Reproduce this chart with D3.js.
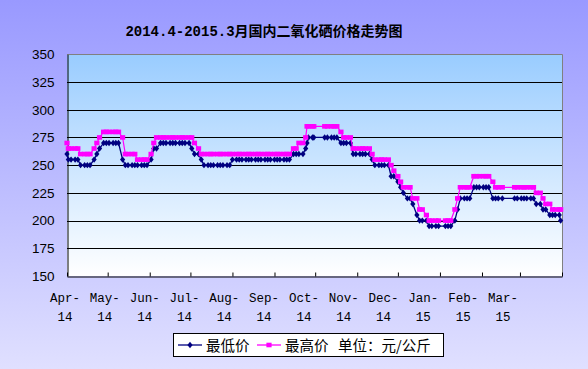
<!DOCTYPE html>
<html>
<head>
<meta charset="utf-8">
<script src="https://cdn.jsdelivr.net/npm/d3@7"></script>
<style>
  html, body { margin: 0; padding: 0; }
  svg { display: block; }
</style>
</head>
<body>
<div id="chart"></div>
<script>
const title = '2014.4-2015.3月国内二氧化硒价格走势图';

// price quote dates (Mon/Wed/Fri style, holidays skipped)
const dates = [
  '2014-04-01','2014-04-02','2014-04-04','2014-04-07','2014-04-09','2014-04-11','2014-04-14','2014-04-16','2014-04-18','2014-04-21','2014-04-23','2014-04-25','2014-04-28','2014-04-30',
  '2014-05-02','2014-05-05','2014-05-07','2014-05-09','2014-05-12','2014-05-14','2014-05-16','2014-05-19','2014-05-21','2014-05-23','2014-05-26','2014-05-28','2014-05-30',
  '2014-06-02','2014-06-04','2014-06-06','2014-06-09','2014-06-11','2014-06-13','2014-06-16','2014-06-18','2014-06-20','2014-06-23','2014-06-25','2014-06-27','2014-06-30',
  '2014-07-02','2014-07-04','2014-07-07','2014-07-09','2014-07-11','2014-07-14','2014-07-16','2014-07-18','2014-07-21','2014-07-23','2014-07-25','2014-07-28','2014-07-30',
  '2014-08-01','2014-08-04','2014-08-06','2014-08-08','2014-08-11','2014-08-13','2014-08-15','2014-08-18','2014-08-20','2014-08-22','2014-08-25','2014-08-27','2014-08-29',
  '2014-09-01','2014-09-03','2014-09-05','2014-09-08','2014-09-10','2014-09-12','2014-09-15','2014-09-17','2014-09-19','2014-09-22','2014-09-24','2014-09-25','2014-09-26','2014-09-29','2014-09-30',
  '2014-10-08','2014-10-10','2014-10-13','2014-10-15','2014-10-17','2014-10-20','2014-10-22','2014-10-24','2014-10-27','2014-10-29','2014-10-31',
  '2014-11-03','2014-11-05','2014-11-07','2014-11-10','2014-11-12','2014-11-14','2014-11-17','2014-11-19','2014-11-21','2014-11-24','2014-11-26','2014-11-28',
  '2014-12-01','2014-12-03','2014-12-05','2014-12-08','2014-12-10','2014-12-12','2014-12-15','2014-12-17','2014-12-19','2014-12-22','2014-12-24','2014-12-26','2014-12-29','2014-12-31',
  '2015-01-05','2015-01-07','2015-01-09','2015-01-12','2015-01-14','2015-01-16','2015-01-19','2015-01-21','2015-01-23','2015-01-26','2015-01-28','2015-01-30',
  '2015-02-02','2015-02-04','2015-02-06','2015-02-09','2015-02-11','2015-02-13','2015-02-16','2015-02-25','2015-02-27',
  '2015-03-02','2015-03-04','2015-03-06','2015-03-09','2015-03-11','2015-03-13','2015-03-16','2015-03-18','2015-03-20','2015-03-23','2015-03-25','2015-03-27','2015-03-30','2015-03-31'
];

const lowPrices = [
  260,255,255,255,255,250,250,250,250,255,260,265,270,270,
  270,270,270,270,255,250,250,250,250,250,250,250,250,
  255,265,265,270,270,270,270,270,270,270,270,270,270,
  265,260,260,255,250,250,250,250,250,250,250,250,250,
  255,255,255,255,255,255,255,255,255,255,255,255,255,
  255,255,255,255,255,255,260,260,260,260,265,270,275,275,275,
  275,275,275,275,275,270,270,270,270,260,260,
  260,260,260,260,255,250,250,250,250,250,240,240,
  235,230,225,220,220,215,205,200,200,200,195,195,195,195,
  195,195,195,200,210,220,220,220,220,230,230,230,
  230,230,230,220,220,220,220,220,220,
  220,220,220,220,220,215,215,210,210,205,205,205,205,200
];

const highPrices = [
  270,265,265,265,265,260,260,260,260,265,270,275,280,280,
  280,280,280,280,275,260,260,260,260,255,255,255,255,
  260,270,275,275,275,275,275,275,275,275,275,275,275,
  275,270,265,260,260,260,260,260,260,260,260,260,260,
  260,260,260,260,260,260,260,260,260,260,260,260,260,
  260,260,260,260,260,260,265,265,270,270,275,285,285,285,285,
  285,285,285,285,285,280,275,275,275,265,265,
  265,265,265,265,260,255,255,255,255,255,250,245,
  240,235,230,230,230,220,220,210,210,205,200,200,200,200,
  200,200,200,210,220,230,230,230,230,240,240,240,
  240,240,240,235,230,230,230,230,230,
  230,230,230,230,230,225,225,220,215,215,210,210,210,210
];

const yTicks = [150, 175, 200, 225, 250, 275, 300, 325, 350];
const monthLabels = [
  ['Apr-', '14'], ['May-', '14'], ['Jun-', '14'], ['Jul-', '14'], ['Aug-', '14'], ['Sep-', '14'],
  ['Oct-', '14'], ['Nov-', '14'], ['Dec-', '14'], ['Jan-', '15'], ['Feb-', '15'], ['Mar-', '15']
];
const seriesNames = ['最低价', '最高价'];
const unitLabel = '单位：元/公斤';

const W = 588, H = 369;
const plot = { left: 67, right: 562, top: 54.3, bottom: 276 };
const lowColor = '#000080';
const highColor = '#ff00ff';

const parse = d3.timeParse('%Y-%m-%d');
const points = dates.map((d, i) => ({ date: parse(d), low: lowPrices[i], high: highPrices[i] }));

const svg = d3.select('#chart').append('svg').attr('width', W).attr('height', H);
const defs = svg.append('defs');

const bgGrad = defs.append('linearGradient').attr('id', 'bg').attr('x1', 0).attr('y1', 0).attr('x2', 0).attr('y2', 1);
bgGrad.append('stop').attr('offset', '0%').attr('stop-color', '#9999ff');
bgGrad.append('stop').attr('offset', '100%').attr('stop-color', '#e0e0ff');

const plotGrad = defs.append('linearGradient').attr('id', 'plotbg').attr('x1', 0).attr('y1', 0).attr('x2', 0).attr('y2', 1);
plotGrad.append('stop').attr('offset', '0%').attr('stop-color', '#99ccff');
plotGrad.append('stop').attr('offset', '100%').attr('stop-color', '#ffffff');

svg.append('rect').attr('width', W).attr('height', H).attr('fill', 'url(#bg)');

const x = d3.scaleTime()
  .domain([parse('2014-04-01'), parse('2015-04-01')])
  .range([plot.left, plot.right]);
const y = d3.scaleLinear().domain([150, 350]).range([plot.bottom, plot.top]);
// month labels sit on their own evenly spaced slots, like the original
const xLabel = d3.scalePoint().domain(d3.range(monthLabels.length)).range([65, 503]);

svg.append('rect')
  .attr('x', plot.left).attr('y', plot.top)
  .attr('width', plot.right - plot.left).attr('height', plot.bottom - plot.top)
  .attr('fill', 'url(#plotbg)');

// gridlines
svg.append('g').selectAll('line')
  .data(yTicks.filter(v => v > 150 && v < 350))
  .join('line')
  .attr('x1', plot.left).attr('x2', plot.right)
  .attr('y1', d => Math.round(y(d)) + 0.5).attr('y2', d => Math.round(y(d)) + 0.5)
  .attr('stroke', '#000').attr('stroke-width', 1);

// plot border: grey top/right, black axes
const yTop = Math.round(y(350)) + 0.5;
const yBot = Math.round(y(150)) + 0.5;
svg.append('line').attr('x1', plot.left).attr('x2', plot.right + 0.5).attr('y1', yTop).attr('y2', yTop).attr('stroke', '#808080');
svg.append('line').attr('x1', plot.right + 0.5).attr('x2', plot.right + 0.5).attr('y1', yTop).attr('y2', yBot).attr('stroke', '#808080');

// y axis
const yAxis = svg.append('g').attr('transform', 'translate(' + (plot.left + 0.5) + ',0)')
  .call(d3.axisLeft(y).tickValues(yTicks).tickSize(0).tickPadding(13));
yAxis.select('.domain').attr('stroke', '#000');
yAxis.selectAll('text')
  .attr('font-family', '"Liberation Sans", Arial, sans-serif')
  .attr('font-size', 13.5).attr('fill', '#000');

// x axis: month ticks pointing inward
const xAxis = svg.append('g').attr('transform', 'translate(0,' + yBot + ')')
  .call(d3.axisBottom(x).ticks(d3.timeMonth.every(1)).tickSizeInner(-4).tickSizeOuter(0).tickFormat(''));
xAxis.select('.domain').attr('stroke', '#000');
xAxis.selectAll('.tick line').attr('stroke', '#000');

const xl = svg.append('g').selectAll('text')
  .data(monthLabels)
  .join('text')
  .attr('x', (d, i) => xLabel(i))
  .attr('text-anchor', 'middle')
  .attr('font-family', '"Liberation Mono", "DejaVu Sans Mono", monospace')
  .attr('font-size', 12.5)
  .attr('fill', '#000');
xl.append('tspan').attr('x', (d, i) => xLabel(i)).attr('y', 302).text(d => d[0]);
xl.append('tspan').attr('x', (d, i) => xLabel(i)).attr('y', 320.5).text(d => d[1]);

// series
const diamond = {
  draw(ctx, size) {
    const w = 2.6, h = 3.2;
    ctx.moveTo(0, -h); ctx.lineTo(w, 0); ctx.lineTo(0, h); ctx.lineTo(-w, 0); ctx.closePath();
  }
};
const square = {
  draw(ctx, size) {
    const w = 2.6, h = 2.3;
    ctx.rect(-w, -h, 2 * w, 2 * h);
  }
};

const series = [
  { key: 'low', color: lowColor, symbol: diamond, width: 1.3 },
  { key: 'high', color: highColor, symbol: square, width: 1.2 }
];

series.forEach(s => {
  const line = d3.line().x(d => x(d.date)).y(d => y(d[s.key]));
  svg.append('path').datum(points)
    .attr('d', line).attr('fill', 'none')
    .attr('stroke', s.color).attr('stroke-width', s.width);
  svg.append('g').selectAll('path')
    .data(points)
    .join('path')
    .attr('transform', d => 'translate(' + x(d.date) + ',' + y(d[s.key]) + ')')
    .attr('d', d3.symbol(s.symbol, 20))
    .attr('fill', s.color);
});

// title
svg.append('text')
  .attr('x', 264).attr('y', 36)
  .attr('text-anchor', 'middle')
  .attr('font-family', '"Liberation Mono", "Noto Sans CJK SC", monospace')
  .attr('font-size', 14).attr('font-weight', 'bold')
  .attr('fill', '#000')
  .text(title);

// legend
const lg = svg.append('g');
lg.append('rect').attr('x', 173.5).attr('y', 333.5).attr('width', 270).attr('height', 23)
  .attr('fill', '#fff').attr('stroke', '#000');
const legendItems = [
  { name: seriesNames[0], color: lowColor, symbol: diamond, x0: 178 },
  { name: seriesNames[1], color: highColor, symbol: square, x0: 257 }
];
const ly = 345;
legendItems.forEach(it => {
  lg.append('line').attr('x1', it.x0).attr('x2', it.x0 + 24).attr('y1', ly).attr('y2', ly)
    .attr('stroke', it.color).attr('stroke-width', 1.3);
  lg.append('path').attr('transform', 'translate(' + (it.x0 + 12) + ',' + ly + ')')
    .attr('d', d3.symbol(it.symbol, 20)).attr('fill', it.color);
  lg.append('text').attr('x', it.x0 + 28).attr('y', ly + 5.5)
    .attr('font-family', '"Noto Sans CJK SC", sans-serif').attr('font-size', 14.5)
    .attr('fill', '#000').text(it.name);
});
lg.append('text').attr('x', 338).attr('y', ly + 5.5)
  .attr('font-family', '"Noto Sans CJK SC", sans-serif').attr('font-size', 14.5)
  .attr('fill', '#000').text(unitLabel);
</script>
</body>
</html>
